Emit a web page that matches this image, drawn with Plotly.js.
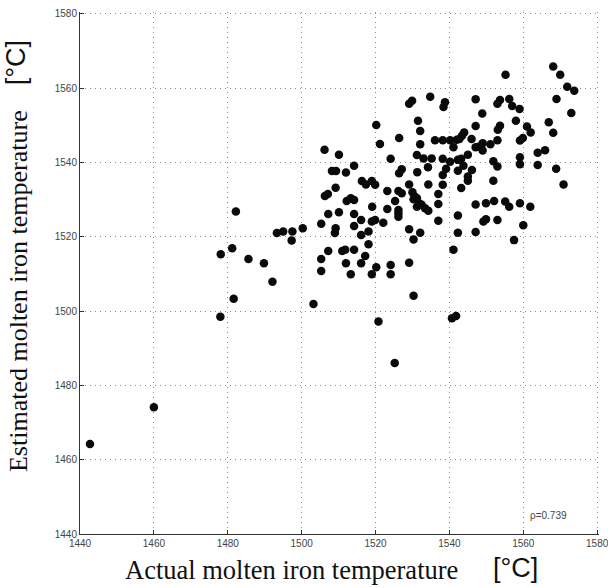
<!DOCTYPE html>
<html>
<head>
<meta charset="utf-8">
<script src="https://cdn.plot.ly/plotly-3.0.1.min.js"></script>
<style>
html,body{margin:0;padding:0;background:#fff;}
#chart{width:608px;height:588px;}
</style>
</head>
<body>
<div id="chart"></div>
<script>
// Actual molten iron temperature [°C]
const actualTemp = [
1482.2,1478.1,1481.2,1485.6,1489.8,1481.6,1478.0,1442.7,1460.0,1525.2,
1506.2,1510.1,1521.2,1532.1,1524.1,1531.2,1533.0,1535.2,1534.2,1514.2,
1512.0,1508.2,1509.3,1516.3,1517.4,1519.0,1519.9,1527.1,1526.4,1531.3,
1529.1,1534.3,1509.2,1523.2,1526.2,1527.1,1530.0,1530.7,1506.3,1507.1,
1512.2,1513.3,1514.2,1525.3,1530.3,1531.2,1531.8,1532.5,1533.4,1534.3,
1531.2,1519.1,1523.2,1526.2,1526.2,1526.2,1507.2,1510.1,1514.2,1516.1,
1519.0,1519.9,1522.1,1505.3,1514.2,1509.2,1509.0,1518.1,1516.1,1493.3,
1495.0,1497.5,1500.3,1497.3,1529.1,1532.1,1530.3,1518.1,1507.2,1511.0,
1511.8,1514.2,1517.2,1505.3,1512.0,1516.1,1520.2,1524.1,1529.1,1505.3,
1513.3,1519.0,1524.1,1492.1,1530.3,1503.2,1520.8,1568.1,1570.0,1555.2,
1571.9,1573.8,1547.1,1556.2,1553.7,1553.0,1557.0,1559.0,1569.0,1538.8,
1538.4,1534.8,1573.0,1548.9,1558.0,1566.9,1547.1,1553.7,1553.1,1561.0,
1562.0,1568.1,1544.0,1543.4,1542.7,1536.1,1538.2,1540.2,1542.0,1546.0,
1559.9,1559.1,1553.0,1541.1,1547.1,1548.1,1549.0,1549.0,1551.1,1565.9,
1563.9,1545.0,1538.2,1540.2,1542.3,1543.2,1543.8,1542.3,1546.1,1551.9,
1553.0,1559.1,1559.1,1563.9,1568.9,1539.1,1538.2,1545.0,1545.0,1551.9,
1538.2,1543.2,1570.9,1537.0,1537.0,1547.1,1549.9,1552.1,1555.1,1556.2,
1559.1,1561.9,1542.3,1537.0,1549.2,1549.9,1553.0,1560.0,1542.3,1547.1,
1557.5,1541.1,1540.7,1541.8,1520.2,1529.1,1529.9,1531.5,1526.4,1532.1
];
// Estimated molten iron temperature [°C]
const estimatedTemp = [
1526.8,1515.3,1516.9,1514.0,1512.9,1503.3,1498.5,1464.2,1474.1,1486.0,
1543.4,1542.1,1545.0,1544.9,1541.0,1542.0,1541.1,1541.1,1538.7,1539.1,
1537.3,1537.7,1537.7,1535.0,1534.1,1535.0,1534.0,1538.2,1537.1,1537.4,
1534.1,1534.1,1533.2,1532.3,1532.3,1531.7,1532.0,1530.8,1531.0,1531.5,
1529.6,1530.4,1529.9,1529.6,1530.1,1530.4,1529.0,1528.6,1527.7,1527.0,
1528.1,1528.1,1527.5,1527.2,1526.3,1525.4,1526.1,1526.6,1526.1,1524.5,
1524.1,1524.5,1523.8,1523.5,1522.9,1522.3,1521.0,1521.4,1520.5,1521.0,
1521.4,1521.4,1522.3,1519.0,1522.0,1521.1,1519.3,1518.0,1516.2,1516.2,
1516.5,1516.5,1514.8,1514.0,1512.9,1512.9,1511.8,1512.4,1513.0,1510.8,
1509.9,1509.9,1509.9,1507.9,1504.1,1501.9,1497.2,1565.8,1563.6,1563.6,
1560.4,1559.3,1557.0,1557.1,1556.8,1555.8,1555.2,1554.4,1557.1,1556.2,
1554.9,1557.7,1553.3,1553.2,1551.2,1550.8,1549.8,1549.9,1548.8,1549.7,
1548.1,1548.0,1548.1,1547.2,1546.3,1546.0,1546.0,1546.0,1546.1,1546.3,
1546.6,1545.9,1546.0,1544.1,1544.1,1544.3,1545.2,1543.2,1544.9,1543.3,
1542.6,1542.1,1541.0,1540.2,1540.7,1541.0,1539.1,1537.8,1538.0,1540.3,
1538.9,1541.4,1539.5,1539.3,1538.3,1538.3,1536.6,1536.2,1535.1,1535.1,
1534.0,1533.1,1534.1,1531.5,1528.8,1528.7,1529.0,1529.6,1529.5,1528.1,
1529.0,1528.1,1525.7,1524.3,1524.1,1524.7,1524.5,1523.1,1521.1,1521.3,
1519.1,1516.5,1498.1,1498.7,1550.1,1555.8,1556.6,1551.2,1546.6,1548.5
];
const tickVals = [1440,1460,1480,1500,1520,1540,1560,1580];
const axisRange = [1440, 1580.5];
const xTitle = "Actual molten iron temperature";
const yTitle = "Estimated molten iron temperature";
const unitLabel = "[°C]";
const rhoLabel = "ρ=0.739";

const trace = {
  x: actualTemp, y: estimatedTemp, type: 'scatter', mode: 'markers',
  marker: {color: '#0a0a0a', size: 8.5, line: {width: 0}},
  hoverinfo: 'x+y'
};

const axisCommon = {
  tickmode: 'array', tickvals: tickVals, ticktext: tickVals.map(String),
  showgrid: true, gridcolor: '#8c8c8c', griddash: '1px,4px', gridwidth: 1,
  showline: true, linecolor: '#333', linewidth: 1, mirror: false,
  ticks: 'inside', ticklen: 4, tickcolor: '#333', tickwidth: 1,
  zeroline: false, ticklabeloverflow: 'allow',
  tickfont: {family: 'Liberation Sans, Arial, sans-serif', size: 10, color: '#444'},
  fixedrange: true
};

const layout = {
  width: 608, height: 588,
  margin: {l: 80, r: 9, t: 12, b: 54},
  paper_bgcolor: '#fff', plot_bgcolor: '#fff',
  showlegend: false,
  xaxis: Object.assign({}, axisCommon, {range: axisRange}),
  yaxis: Object.assign({}, axisCommon, {range: axisRange}),
  annotations: [
    {text: xTitle, xref: 'paper', yref: 'paper', x: 0.407, y: -0.069,
     xanchor: 'center', yanchor: 'middle', showarrow: false,
     font: {family: 'Liberation Serif, Times New Roman, serif', size: 26.5, color: '#111'}},
    {text: unitLabel, xref: 'paper', yref: 'paper', x: 0.84, y: -0.066,
     xanchor: 'center', yanchor: 'middle', showarrow: false,
     font: {family: 'Liberation Sans, Arial, sans-serif', size: 27, color: '#111'}},
    {text: yTitle, xref: 'paper', yref: 'paper', x: -0.118, y: 0.465,
     xanchor: 'center', yanchor: 'middle', showarrow: false, textangle: -90,
     font: {family: 'Liberation Serif, Times New Roman, serif', size: 26, color: '#111'}},
    {text: unitLabel, xref: 'paper', yref: 'paper', x: -0.124, y: 0.903,
     xanchor: 'center', yanchor: 'middle', showarrow: false, textangle: -90,
     font: {family: 'Liberation Sans, Arial, sans-serif', size: 27, color: '#111'}},
    {text: rhoLabel, xref: 'paper', yref: 'paper', x: 0.942, y: 0.036,
     xanchor: 'right', yanchor: 'middle', showarrow: false,
     font: {family: 'Liberation Sans, Arial, sans-serif', size: 10, color: '#444'}}
  ]
};

Plotly.newPlot('chart', [trace], layout, {displayModeBar: false, staticPlot: true});
</script>
</body>
</html>
